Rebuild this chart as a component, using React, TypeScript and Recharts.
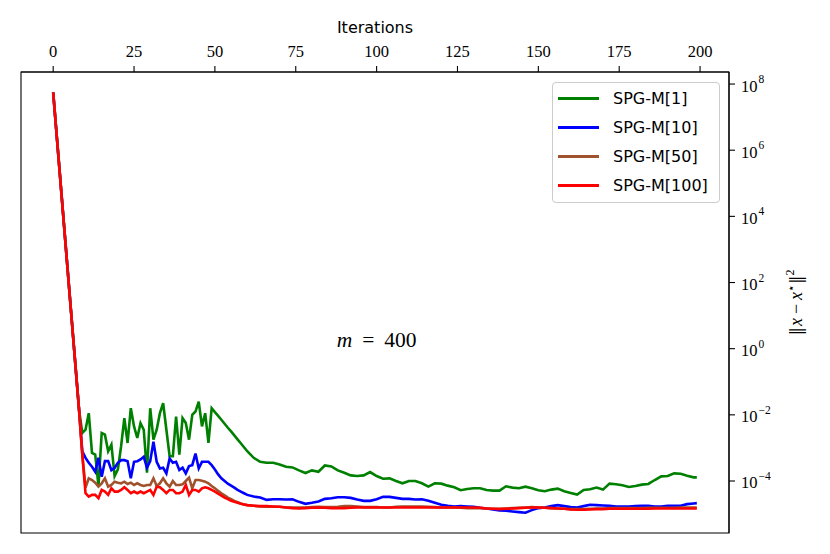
import React from "react";
import {
  LineChart,
  Line,
  XAxis,
  YAxis,
  Legend,
  Label,
  ReferenceArea,
  ReferenceDot,
} from "recharts";

// iterations sampled every step up to 60, then every second step
const iterations = [
  0, 1, 2, 3, 4, 5, 6, 7, 8, 9, 10, 11, 12, 13, 14, 15, 16, 17, 18, 19, 20,
  21, 22, 23, 24, 25, 26, 27, 28, 29, 30, 31, 32, 33, 34, 35, 36, 37, 38, 39,
  40, 41, 42, 43, 44, 45, 46, 47, 48, 49, 50, 51, 52, 53, 54, 55, 56, 57, 58,
  59, 60,
  62, 64, 66, 68, 70, 72, 74, 76, 78, 80,
  82, 84, 86, 88, 90, 92, 94, 96, 98, 100,
  102, 104, 106, 108, 110, 112, 114, 116, 118, 120,
  122, 124, 126, 128, 130, 132, 134, 136, 138, 140,
  142, 144, 146, 148, 150, 152, 154, 156, 158, 160,
  162, 164, 166, 168, 170, 172, 174, 176, 178, 180,
  182, 184, 186, 188, 190, 192, 194, 196, 198,
  199,
];

// log10 of ||x - x*||^2
const spgM1 = [
  7.75, 6.55, 5.35, 4.15, 2.95, 1.75, 0.55, -0.65, -1.85,
  -2.55, -2.45, -1.95, -3.15, -3.2, -4.15, -2.55, -2.6, -3.1, -2.9, -3.85,
  -3.65, -2.95, -2.1, -2.85, -1.8, -2.35, -2.7, -2.25, -2.45, -3.75,
  -1.8, -2.75, -2.45, -1.95, -1.65, -2.45, -3.25, -3.25, -2.05, -3.2,
  -2.1, -2.25, -2.75, -2.0, -1.9, -1.6, -2.35, -1.95, -2.85, -1.8,
  -1.92, -2.03, -2.15, -2.27, -2.39, -2.5, -2.62, -2.74, -2.86, -2.98, -3.1,
  -3.3, -3.42, -3.45, -3.45, -3.5, -3.57, -3.59, -3.68, -3.76, -3.68,
  -3.72, -3.53, -3.56, -3.68, -3.75, -3.83, -3.85, -3.83, -3.73, -3.85,
  -3.93, -3.92, -4.0, -4.07, -4.0, -4.0, -4.07, -4.17, -4.07, -4.08,
  -4.14, -4.19, -4.28, -4.24, -4.22, -4.22, -4.27, -4.29, -4.29, -4.16,
  -4.2, -4.22, -4.17, -4.22, -4.28, -4.31, -4.26, -4.23, -4.31, -4.36,
  -4.41, -4.27, -4.25, -4.2, -4.26, -4.08, -4.1, -4.13, -4.18, -4.15,
  -4.11, -4.09, -3.97, -3.86, -3.85, -3.77, -3.78, -3.84, -3.89,
  -3.89,
];

const spgM10 = [
  7.75, 6.55, 5.35, 4.15, 2.95, 1.75, 0.55, -0.65, -1.85,
  -3.1, -3.3, -3.45, -3.57, -3.72, -3.3, -3.87, -3.4, -3.4, -3.67, -3.6,
  -3.45, -3.37, -3.37, -3.4, -3.92, -3.42, -3.4, -3.35, -3.27, -3.6,
  -3.4, -2.81, -3.42, -3.62, -3.6, -3.77, -3.32, -3.45, -3.42, -3.67,
  -3.6, -3.77, -3.55, -3.52, -3.17, -3.62, -3.42, -3.42, -3.42, -3.52,
  -3.65, -3.8, -3.92, -4.0, -4.08, -4.14, -4.2, -4.27, -4.32, -4.37, -4.42,
  -4.47, -4.5, -4.57, -4.55, -4.55, -4.56, -4.55, -4.63, -4.69, -4.66,
  -4.62, -4.54, -4.52, -4.49, -4.49, -4.51, -4.56, -4.6, -4.6, -4.55,
  -4.48, -4.48, -4.51, -4.54, -4.54, -4.56, -4.55, -4.6, -4.66, -4.72,
  -4.75, -4.77, -4.76, -4.77, -4.78, -4.81, -4.83, -4.86, -4.89, -4.9,
  -4.92, -4.94, -4.96, -4.88, -4.82, -4.8, -4.76, -4.73, -4.76, -4.79,
  -4.8, -4.76, -4.72, -4.73, -4.74, -4.75, -4.77, -4.77, -4.77, -4.76,
  -4.75, -4.75, -4.77, -4.77, -4.75, -4.75, -4.75, -4.7, -4.68,
  -4.67,
];

const spgM50 = [
  7.75, 6.55, 5.35, 4.15, 2.95, 1.75, 0.55, -0.65, -1.85,
  -3.2, -4.2, -3.92, -3.97, -4.05, -4.17, -4.07, -3.92, -4.17, -4.12, -4.02,
  -4.05, -4.07, -4.02, -4.09, -4.05, -4.12, -4.07, -4.12, -4.15, -4.12,
  -4.12, -3.92, -4.15, -4.07, -3.92, -4.07, -4.17, -4.0, -4.12, -4.12,
  -4.1, -4.0, -3.9, -4.22, -3.97, -3.97, -3.99, -4.02, -4.07, -4.15,
  -4.22, -4.3, -4.37, -4.43, -4.5, -4.55, -4.6, -4.64, -4.68, -4.71, -4.73,
  -4.75, -4.77, -4.78, -4.78, -4.78, -4.8, -4.8, -4.8, -4.8, -4.79,
  -4.78, -4.79, -4.79, -4.78, -4.76, -4.76, -4.77, -4.79, -4.79, -4.79,
  -4.8, -4.8, -4.78, -4.77, -4.77, -4.77, -4.77, -4.78, -4.79, -4.8,
  -4.8, -4.8, -4.81, -4.82, -4.82, -4.82, -4.83, -4.84, -4.84, -4.83,
  -4.82, -4.81, -4.8, -4.79, -4.8, -4.81, -4.82, -4.83, -4.84, -4.85,
  -4.85, -4.85, -4.84, -4.83, -4.83, -4.82, -4.82, -4.82, -4.82, -4.82,
  -4.82, -4.81, -4.81, -4.81, -4.81, -4.81, -4.8, -4.8, -4.8,
  -4.8,
];

const spgM100 = [
  7.75, 6.55, 5.35, 4.15, 2.95, 1.75, 0.55, -0.65, -1.85,
  -3.2, -4.37, -4.47, -4.42, -4.42, -4.52, -4.27, -4.32, -4.42, -4.22, -4.32,
  -4.32, -4.27, -4.19, -4.27, -4.37, -4.32, -4.37, -4.32, -4.37, -4.32,
  -4.27, -4.42, -4.17, -4.19, -4.27, -4.37, -4.27, -4.27, -4.37, -4.37,
  -4.32, -4.12, -4.42, -4.27, -4.27, -4.32, -4.22, -4.19, -4.22, -4.27,
  -4.32, -4.38, -4.44, -4.5, -4.55, -4.6, -4.63, -4.66, -4.69, -4.71, -4.73,
  -4.75, -4.76, -4.76, -4.77, -4.78, -4.8, -4.82, -4.83, -4.82, -4.81,
  -4.8, -4.81, -4.82, -4.82, -4.82, -4.81, -4.8, -4.8, -4.8, -4.8,
  -4.8, -4.8, -4.8, -4.8, -4.8, -4.8, -4.8, -4.8, -4.8, -4.8,
  -4.8, -4.8, -4.8, -4.8, -4.8, -4.81, -4.83, -4.84, -4.85, -4.84,
  -4.83, -4.82, -4.81, -4.8, -4.8, -4.81, -4.82, -4.83, -4.84, -4.86,
  -4.87, -4.87, -4.86, -4.85, -4.85, -4.84, -4.84, -4.84, -4.84, -4.84,
  -4.84, -4.84, -4.83, -4.83, -4.83, -4.83, -4.83, -4.83, -4.83,
  -4.83,
];

const seriesNames = ["SPG-M[1]", "SPG-M[10]", "SPG-M[50]", "SPG-M[100]"];
const xTicks = [0, 25, 50, 75, 100, 125, 150, 175, 200];
const yTicks = [1e-4, 1e-2, 1, 1e2, 1e4, 1e6, 1e8];
const xDomain = [-9.95, 208.95];
const yDomain = [10 ** -5.572, 10 ** 8.364];

const rows = iterations.map((it, k) => ({
  it,
  m1: 10 ** spgM1[k],
  m10: 10 ** spgM10[k],
  m50: 10 ** spgM50[k],
  m100: 10 ** spgM100[k],
}));

const serif = "'Liberation Serif', 'DejaVu Serif', serif";
const sans = "'DejaVu Sans', sans-serif";

function TopTick({ x, y, payload }: any) {
  return (
    <text x={x} y={y - 3.5} textAnchor="middle" style={{ fontFamily: serif, fontSize: 16.5 }} fill="#000">
      {payload.value}
    </text>
  );
}

function RightTick({ x, y, payload }: any) {
  const e = Math.round(Math.log10(payload.value));
  const exp = e < 0 ? `\u2212${-e}` : `${e}`;
  return (
    <text x={x} y={y + 7.5} style={{ fontFamily: serif, fontSize: 16.5 }} fill="#000">
      10
      <tspan dx={1} dy={-8.5} style={{ fontSize: 11.5 }}>
        {exp}
      </tspan>
    </text>
  );
}

function LegendBox({ payload }: any) {
  if (!payload?.length) return null;
  const items = [...payload].sort(
    (a: any, b: any) => seriesNames.indexOf(a.value) - seriesNames.indexOf(b.value)
  );
  return (
    <div
      style={{
        boxSizing: "border-box",
        width: 168,
        height: 121,
        border: "1px solid #cccccc",
        borderRadius: 4,
        background: "rgba(255,255,255,0.8)",
        paddingTop: 1,
      }}
    >
      {items.map((p: any) => (
        <div key={p.value} style={{ display: "flex", alignItems: "center", height: 29 }}>
          <div style={{ width: 41, height: 2.6, background: p.color, marginLeft: 5, marginRight: 14 }} />
          <span style={{ fontFamily: sans, fontSize: 16, color: "#000", lineHeight: "29px" }}>
            {p.value}
          </span>
        </div>
      ))}
    </div>
  );
}

function Annotation({ cx, cy }: any) {
  return (
    <text x={cx} y={cy - 2} textAnchor="middle" style={{ fontFamily: serif, fontSize: 21.5 }} fill="#000">
      <tspan fontStyle="italic">m</tspan>
      <tspan dx={10}>=</tspan>
      <tspan dx={10}>400</tspan>
    </text>
  );
}

export default function App() {
  return (
    <div style={{ position: "absolute", left: 0, top: 0, width: 830, height: 554, background: "#fff" }}>
      <LineChart width={830} height={554} data={rows} margin={{ top: 0, right: 0, bottom: 21, left: 21 }}>
        <XAxis
          dataKey="it"
          type="number"
          orientation="top"
          height={72}
          domain={xDomain}
          allowDataOverflow
          ticks={xTicks}
          interval={0}
          tickSize={6}
          tickMargin={6}
          tick={TopTick}
          axisLine={{ stroke: "#000", strokeWidth: 1.1 }}
          tickLine={{ stroke: "#000", strokeWidth: 1.1 }}
        >
          <Label
            content={({ viewBox }: any) => (
              <text
                x={viewBox.x + viewBox.width / 2}
                y={viewBox.y + 33}
                textAnchor="middle"
                style={{ fontFamily: sans, fontSize: 16 }}
                fill="#000"
              >
                Iterations
              </text>
            )}
          />
        </XAxis>
        <YAxis
          orientation="right"
          scale="log"
          width={101}
          domain={yDomain}
          allowDataOverflow
          ticks={yTicks}
          interval={0}
          tickSize={6}
          tickMargin={6}
          tick={RightTick}
          axisLine={{ stroke: "#000", strokeWidth: 1.1 }}
          tickLine={{ stroke: "#000", strokeWidth: 1.1 }}
        >
          <Label
            content={({ viewBox }: any) => {
              const lx = viewBox.x + 73;
              const ly = viewBox.y + viewBox.height / 2;
              return (
                <text
                  x={lx}
                  y={ly}
                  transform={`rotate(-90, ${lx}, ${ly})`}
                  textAnchor="middle"
                  style={{ fontFamily: serif, fontSize: 18 }}
                  fill="#000"
                >
                  <tspan style={{ fontFamily: "'DejaVu Serif', serif", fontSize: 17 }}>{"\u2016"}</tspan>
                  <tspan fontStyle="italic" dx={1}>x</tspan>
                  <tspan dx={4}>{"\u2212"}</tspan>
                  <tspan fontStyle="italic" dx={4}>x</tspan>
                  <tspan dy={-7} style={{ fontSize: 12 }}>{"\u22c6"}</tspan>
                  <tspan dy={7} style={{ fontFamily: "'DejaVu Serif', serif", fontSize: 17 }}>{"\u2016"}</tspan>
                  <tspan dy={-8} style={{ fontSize: 12 }}>2</tspan>
                </text>
              );
            }}
          />
        </YAxis>
        <Legend
          layout="horizontal"
          verticalAlign="middle"
          align="center"
          content={<LegendBox />}
          wrapperStyle={{ left: 552, top: 82, width: 168, height: 121 }}
        />
        <Line dataKey="m1" name={seriesNames[0]} stroke="#008000" strokeWidth={2.6} dot={false} isAnimationActive={false} />
        <Line dataKey="m10" name={seriesNames[1]} stroke="#0000ff" strokeWidth={2.6} dot={false} isAnimationActive={false} />
        <Line dataKey="m50" name={seriesNames[2]} stroke="#a0522d" strokeWidth={2.6} dot={false} isAnimationActive={false} />
        <Line dataKey="m100" name={seriesNames[3]} stroke="#ff0000" strokeWidth={2.6} dot={false} isAnimationActive={false} />
        <ReferenceDot x={100} y={1} r={0} ifOverflow="visible" shape={Annotation} />
        <ReferenceArea
          x1={xDomain[0]}
          x2={xDomain[1]}
          y1={yDomain[0]}
          y2={yDomain[1]}
          ifOverflow="visible"
          fill="none"
          fillOpacity={0}
          stroke="#000"
          strokeWidth={1.1}
        />
      </LineChart>
    </div>
  );
}
